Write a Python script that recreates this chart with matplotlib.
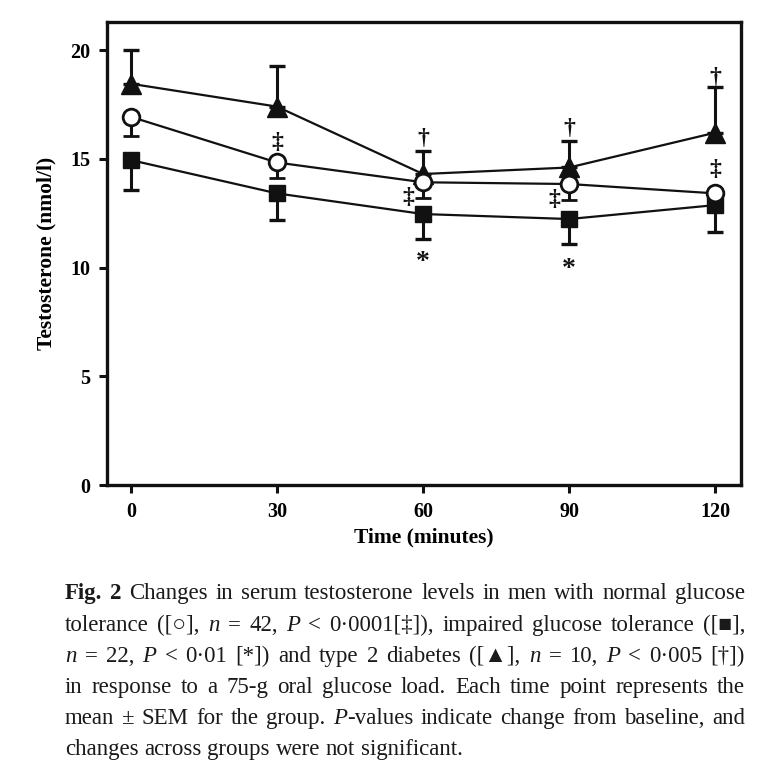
import re
import matplotlib
matplotlib.use("Agg")
import matplotlib.pyplot as plt
import numpy as np

# ---------------- data ----------------
time = [0, 30, 60, 90, 120]

ngt_mean = [16.93, 14.83, 13.92, 13.84, 13.41]   # normal glucose tolerance (open circles)
ngt_sem = [0.87, 0.70, 0.70, 0.72, 0.50]

igt_mean = [14.94, 13.41, 12.46, 12.23, 12.87]   # impaired glucose tolerance (squares)
igt_sem = [1.38, 1.23, 1.15, 1.15, 1.25]

t2d_mean = [18.45, 17.40, 14.30, 14.60, 16.20]   # type 2 diabetes (triangles)
t2d_sem = [1.55, 1.85, 1.05, 1.22, 2.10]

# significance marks: (time, y value, symbol)
sig_x = [30, 60, 57, 90, 87, 120, 120, 60, 90]
sig_y = [15.75, 15.95, 13.20, 16.40, 13.15, 18.75, 14.50, 10.25, 9.90]
sig_s = ["‡", "†", "‡", "†", "‡", "†", "‡", "*", "*"]

x_ticks = [0, 30, 60, 90, 120]
y_ticks = [0, 5, 10, 15, 20]

caption_lines = [
    "**Fig. 2** Changes in serum testosterone levels in men with normal glucose",
    "tolerance ([○], _n_ = 42, _P_ < 0·0001[‡]), impaired glucose tolerance ([■],",
    "_n_ = 22, _P_ < 0·01 [*]) and type 2 diabetes ([▲], _n_ = 10, _P_ < 0·005 [†])",
    "in response to a 75-g oral glucose load. Each time point represents the",
    "mean ± SEM for the group. _P_-values indicate change from baseline, and",
    "changes across groups were not significant.",
]

# ---------------- figure ----------------
W, H = 776, 777
fig = plt.figure(figsize=(W / 100, H / 100), dpi=100)
serif = ["Liberation Serif", "DejaVu Serif"]

L, R, T, B = 107, 741, 22, 485
ax = fig.add_axes([L / W, 1 - B / H, (R - L) / W, (B - T) / H])

zero = [0] * len(time)
lw = 1.6
# squares (bottom)
ax.errorbar(time, igt_mean, yerr=[igt_sem, zero], fmt="-s", color="#111111",
            ms=11, mfc="#111111", mec="#111111", lw=lw, elinewidth=2.2,
            capsize=6, capthick=2.4, zorder=3)
# triangles
ax.errorbar(time, t2d_mean, yerr=[zero, t2d_sem], fmt="-^", color="#111111",
            ms=14, mfc="#111111", mec="#111111", lw=lw, elinewidth=2.2,
            capsize=6, capthick=2.4, zorder=4)
# open circles (top)
ax.errorbar(time, ngt_mean, yerr=[ngt_sem, zero], fmt="-o", color="#111111",
            ms=12, mfc="white", mec="#111111", mew=2.0, lw=lw, elinewidth=2.2,
            capsize=6, capthick=2.4, zorder=5)

for x, y, s in zip(sig_x, sig_y, sig_s):
    ax.text(x, y, s, ha="center", va="center", fontsize=17 if s != "*" else 20,
            family=serif, fontweight="bold", color="#111111", zorder=6)

ax.set_xlim(-4.9, 125.3)
ax.set_ylim(0, 21.29)
ax.set_xticks(x_ticks)
ax.set_yticks(y_ticks)
ax.set_xticklabels([str(v) for v in x_ticks], family=serif, fontweight="bold", fontsize=14.5)
ax.set_yticklabels([str(v) for v in y_ticks], family=serif, fontweight="bold", fontsize=14.5)
ax.tick_params(direction="out", length=6, width=2.2, color="#111111", pad=6,
               top=False, right=False)
for sp in ax.spines.values():
    sp.set_linewidth(2.4)
    sp.set_color("#111111")

ax.set_xlabel("Time (minutes)", family=serif, fontweight="bold", fontsize=15.5, labelpad=4)
ax.set_ylabel("Testosterone (nmol/l)", family=serif, fontweight="bold", fontsize=15.5, labelpad=10)

# ---------------- justified caption ----------------
fig.canvas.draw()
renderer = fig.canvas.get_renderer()
cap_fs = 16.5
cap_left, cap_right = 65, 745
baselines = [599, 631, 662, 693, 724, 755]


def parse_words(line):
    words = []
    bold = False
    ital = False
    cur = []
    buf = ""
    i = 0

    def flush():
        nonlocal buf
        if buf:
            cur.append((buf, bold, ital))
            buf = ""

    while i < len(line):
        if line.startswith("**", i):
            flush(); bold = not bold; i += 2; continue
        c = line[i]
        if c == "_":
            flush(); ital = not ital; i += 1; continue
        if c == " ":
            flush()
            if cur:
                words.append(cur)
            cur = []
            i += 1
            continue
        buf += c
        i += 1
    flush()
    if cur:
        words.append(cur)
    return words


def seg_width(s, b, it):
    t = fig.text(0, 0, s, fontsize=cap_fs, family=serif,
                 fontweight="bold" if b else "normal",
                 fontstyle="italic" if it else "normal")
    w = t.get_window_extent(renderer).width
    t.remove()
    return w

space_w = seg_width("a a", False, False) - 2 * seg_width("a", False, False)

for li, line in enumerate(caption_lines):
    words = parse_words(line)
    widths = [[seg_width(*seg) for seg in wd] for wd in words]
    total = sum(sum(w) for w in widths)
    if li < len(caption_lines) - 1 and len(words) > 1:
        gap = (cap_right - cap_left - total) / (len(words) - 1)
    else:
        gap = space_w
    x = cap_left
    for wd, ws in zip(words, widths):
        for (s, b, it), w in zip(wd, ws):
            fig.text(x / W, 1 - baselines[li] / H, s, fontsize=cap_fs, family=serif,
                     fontweight="bold" if b else "normal",
                     fontstyle="italic" if it else "normal",
                     ha="left", va="baseline", color="#1a1a1a")
            x += w
        x += gap

fig.savefig("out.png", dpi=100)
